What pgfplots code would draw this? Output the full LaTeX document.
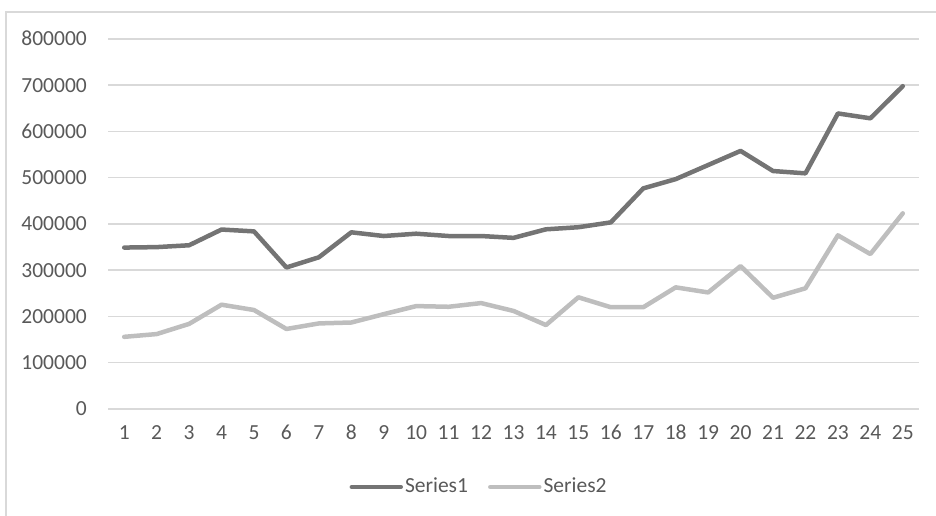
\documentclass[border=0pt]{standalone}
\usepackage{fontspec}
\setmainfont{Carlito}
\usepackage{pgfplots}
\pgfplotsset{compat=1.18}
\definecolor{sone}{HTML}{747474}
\definecolor{stwo}{HTML}{BEBEBE}
\definecolor{gridgray}{HTML}{D9D9D9}
\definecolor{textgray}{HTML}{595959}

\begin{document}
\fontsize{21.5bp}{24bp}\selectfont
\begin{tikzpicture}[x=1bp,y=1bp]
\path[use as bounding box] (0,0) rectangle (936,516);
\draw[gridgray, line width=1.5bp] (6,0) -- (6,504) -- (936,504);
\begin{axis}[
	at={(108bp,107bp)},
	anchor=south west,
	scale only axis,
	width=811bp,
	height=370bp,
	xmin=0.5, xmax=25.5,
	ymin=0, ymax=800000,
	xtick={1,...,25},
	ytick={0,100000,...,800000},
	scaled y ticks=false,
	/pgf/number format/.cd, fixed, 1000 sep={}, assume math mode=true,
	/pgfplots/.cd,
	axis line style={draw=none},
	major tick length=0pt,
	ymajorgrids,
	grid style={gridgray, line width=1.5bp},
	tick label style={text=textgray, font=\fontsize{21.5bp}{24bp}\selectfont},
	yticklabel style={anchor=base east, inner sep=0pt, xshift=-21bp, yshift=-7bp},
	xticklabel style={anchor=base, inner sep=0pt, yshift=-31bp},
	legend columns=2,
	legend style={
		at={(0.4575,-0.2108)},
		anchor=center,
		draw=none, fill=none,
		font=\fontsize{21.5bp}{24bp}\selectfont,
		text=textgray,
		nodes={inner sep=2bp},
		/tikz/every even column/.append style={column sep=18bp}
	},
	legend image code/.code={\draw[#1, line width=4.5bp, line cap=round] (0bp,0bp) -- (49bp,0bp);},
	every axis plot/.append style={line width=4.5bp, line join=round, line cap=round, mark=none}
]
\addplot[sone] coordinates {
	(1,349000) (2,350000) (3,354000) (4,388000) (5,384000)
	(6,306000) (7,328000) (8,382000) (9,374000) (10,379000)
	(11,374000) (12,374000) (13,370000) (14,388500) (15,393000)
	(16,403500) (17,477000) (18,497000) (19,527500) (20,558000)
	(21,514500) (22,509500) (23,639000) (24,628500) (25,698000)
};
\addplot[stwo] coordinates {
	(1,156000) (2,162000) (3,184000) (4,225500) (5,214000)
	(6,173000) (7,185000) (8,187000) (9,205000) (10,222500)
	(11,221000) (12,229000) (13,212000) (14,181500) (15,241500)
	(16,220000) (17,220000) (18,263000) (19,252000) (20,309000)
	(21,240500) (22,261000) (23,375500) (24,335000) (25,423000)
};
\legend{Series1,Series2}
\end{axis}
\end{tikzpicture}
\end{document}
